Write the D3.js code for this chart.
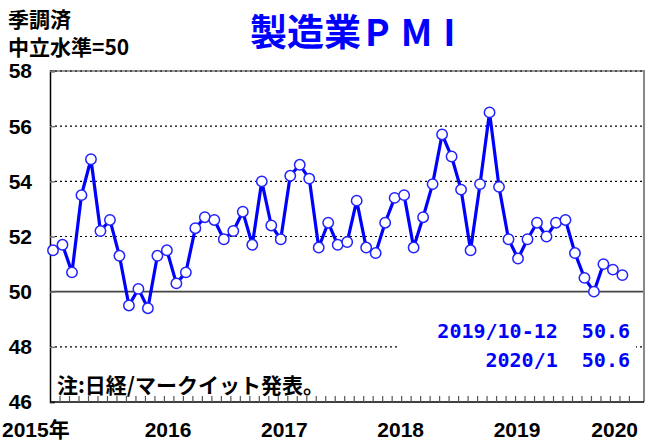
<!DOCTYPE html>
<html><head><meta charset="utf-8">
<script src="https://cdn.jsdelivr.net/npm/d3@7"></script>
<style>
html,body{margin:0;padding:0;background:#fff;}
svg{display:block;}
</style></head>
<body>
<svg id="chart" width="648" height="443"></svg>
<script>
// ---- data ----
const pmiValues = [
  51.5, 51.7, 50.7, 53.5, 54.8, 52.2, 52.6, 51.3, 49.5, 50.1, 49.4, 51.3, // 2015
  51.5, 50.3, 50.7, 52.3, 52.7, 52.6, 51.9, 52.2, 52.9, 51.7, 54.0, 52.4, // 2016
  51.9, 54.2, 54.6, 54.1, 51.6, 52.5, 51.7, 51.8, 53.3, 51.6, 51.4, 52.5, // 2017
  53.4, 53.5, 51.6, 52.7, 53.9, 55.7, 54.9, 53.7, 51.5, 53.9, 56.5, 53.8, // 2018
  51.9, 51.2, 51.9, 52.5, 52.0, 52.5, 52.6, 51.4, 50.5, 50.0, 51.0, 50.8, // 2019
  50.6                                                                    // 2020/1
];
const startYear = 2015;
const months = pmiValues.map((v, i) => `${startYear + Math.floor(i / 12)}/${(i % 12) + 1}`);
const yearLabels = ["2015年", "2016", "2017", "2018", "2019", "2020"];
const yTicks = [46, 48, 50, 52, 54, 56, 58];
const gridValues = [48, 52, 54, 56];
const titleText = "製造業";
const titleLatin = "PMI";
const unitLines = ["季調済", "中立水準=50"];
const noteText = "注:日経/マークイット発表。";
const latestLines = [["2019/10-12", "50.6"], ["2020/1", "50.6"]];

// ---- layout ----
const svg = d3.select("#chart");
const L = 50, R = 644, T = 71, B = 402;
const x = d3.scaleLinear().domain([0, months.length - 1]).range([53, 622.4]);
const y = d3.scaleLinear().domain([46, 58]).range([B, T]);
const blue = "#0000ff";
const numFont = "'Liberation Sans', Arial, sans-serif";
const cjkFont = "'Noto Sans CJK JP', 'Liberation Sans', sans-serif";

// gridlines
svg.append("g").selectAll("line").data(gridValues).join("line")
  .attr("x1", L).attr("x2", R)
  .attr("y1", d => y(d)).attr("y2", d => y(d))
  .attr("stroke", "#000").attr("stroke-width", 1.2)
  .attr("stroke-dasharray", "2,3");

// top border (58)
svg.append("line").attr("x1", L).attr("x2", R).attr("y1", y(58)).attr("y2", y(58))
  .attr("stroke", "#999").attr("stroke-width", 2);
svg.append("line").attr("x1", L).attr("x2", R).attr("y1", y(58)).attr("y2", y(58))
  .attr("stroke", "#000").attr("stroke-width", 1).attr("stroke-dasharray", "2,3");

// 50 line
svg.append("line").attr("x1", L).attr("x2", R).attr("y1", y(50)).attr("y2", y(50))
  .attr("stroke", "#444").attr("stroke-width", 1.6);

// white box behind latest values (covers grid)
svg.append("rect").attr("x", 398).attr("y", 316).attr("width", 238).attr("height", 56)
  .attr("fill", "#fff");

// left axis via d3
const yAxis = d3.axisLeft(y).tickValues(yTicks).tickSize(-5).tickFormat(d3.format("d")).tickPadding(12);
const yg = svg.append("g").attr("transform", `translate(${L},0)`).call(yAxis);
yg.select(".domain").attr("stroke", "#000").attr("stroke-width", 1.5);
yg.selectAll(".tick line").attr("stroke", "#777").attr("stroke-width", 1.5);
yg.selectAll(".tick text")
  .attr("font-family", numFont).attr("font-weight", "bold").attr("font-size", 21)
  .attr("fill", "#000").attr("text-anchor", "end").attr("x", -18).attr("dy", "0.33em");

// right border
svg.append("line").attr("x1", R).attr("x2", R).attr("y1", T - 1).attr("y2", B)
  .attr("stroke", "#888").attr("stroke-width", 2);

// bottom axis with monthly ticks
const tickIdx = d3.range(0, months.length).map(i => i + 0.74).filter(v => x(v) < R - 1);
svg.append("line").attr("x1", L).attr("x2", R).attr("y1", B).attr("y2", B)
  .attr("stroke", "#000").attr("stroke-width", 1.5);
svg.append("g").selectAll("line").data(tickIdx).join("line")
  .attr("x1", d => x(d)).attr("x2", d => x(d))
  .attr("y1", B).attr("y2", B - 6)
  .attr("stroke", "#555").attr("stroke-width", 1.2);

// year labels
const labelX = d3.scaleLinear().domain([1, 4]).range([168, 517]);
svg.append("g").selectAll("text").data(yearLabels).join("text")
  .attr("x", (d, i) => i === 0 ? 2 : (i === yearLabels.length - 1 ? 638 : labelX(i)))
  .attr("y", 437)
  .attr("text-anchor", (d, i) => i === 0 ? "start" : (i === yearLabels.length - 1 ? "end" : "middle"))
  .attr("font-family", numFont + ", 'Noto Sans CJK JP'")
  .attr("font-weight", "bold").attr("font-size", 21).attr("fill", "#000")
  .text(d => d);

// line & markers
const line = d3.line().x((d, i) => x(i)).y(d => y(d));
svg.append("path").datum(pmiValues).attr("d", line)
  .attr("fill", "none").attr("stroke", blue).attr("stroke-width", 3.2)
  .attr("stroke-linejoin", "round");
svg.append("g").selectAll("circle").data(pmiValues).join("circle")
  .attr("cx", (d, i) => x(i)).attr("cy", d => y(d)).attr("r", 5.2)
  .attr("fill", "#fff").attr("stroke", "#2222ff").attr("stroke-width", 1.5);

// title
const title = svg.append("text").attr("x", 250).attr("y", 46)
  .attr("font-family", cjkFont).attr("font-weight", "bold").attr("font-size", 37)
  .attr("fill", blue);
title.append("tspan").text(titleText);
title.append("tspan").attr("letter-spacing", 11).attr("dx", 4).text(titleLatin);

// unit text
svg.append("g").selectAll("text").data(unitLines).join("text")
  .attr("x", 8).attr("y", (d, i) => 27 + i * 28)
  .attr("font-family", cjkFont).attr("font-weight", "bold").attr("font-size", 21)
  .attr("fill", "#000").text(d => d);

// note
svg.append("text").attr("x", 57).attr("y", 393)
  .attr("font-family", cjkFont).attr("font-weight", "bold").attr("font-size", 21)
  .attr("fill", "#000").text(noteText);

// latest values
svg.append("g").selectAll("text").data(latestLines).join("text")
  .attr("x", 630).attr("y", (d, i) => 338 + i * 29)
  .attr("text-anchor", "end")
  .style("white-space", "pre")
  .attr("font-family", "'DejaVu Sans Mono', monospace").attr("font-weight", "bold")
  .attr("font-size", 20).attr("fill", blue)
  .text(d => d[0] + "  " + d[1]);
</script>
</body></html>
